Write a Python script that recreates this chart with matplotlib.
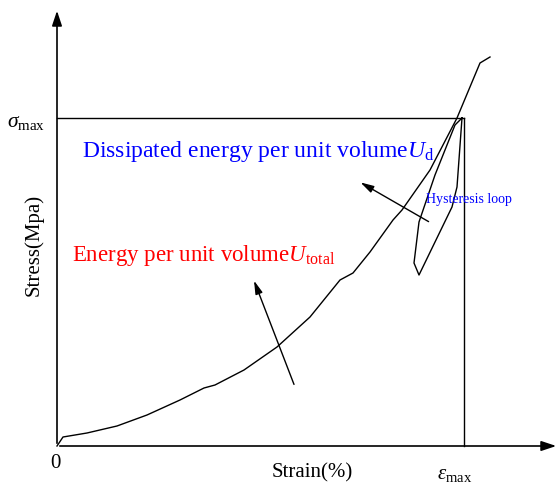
import matplotlib
matplotlib.use("Agg")
import matplotlib.pyplot as plt

plt.rcParams['font.family'] = ['Liberation Serif', 'DejaVu Serif']
plt.rcParams['mathtext.fontset'] = 'custom'
plt.rcParams['mathtext.rm'] = 'Liberation Serif'
plt.rcParams['mathtext.it'] = 'Liberation Serif:italic'

# loading curve (strain, stress) in drawing units, origin at axes corner
load_x = [0, 6, 30, 60, 90, 123, 147, 158, 187, 220, 253, 283, 296, 313, 336, 345, 373, 400, 423, 433]
load_y = [0, 9, 13, 20, 31, 46, 58, 61, 76, 99, 129, 166, 173, 194, 226, 236, 276, 328, 383, 389]

# hysteresis loop (unload / reload)
loop_x = [405, 400, 395, 362, 357, 362, 378, 398, 405]
loop_y = [328, 259, 239, 171, 183, 224, 271, 321, 328]

eps_max = 407
sig_max = 328

fig = plt.figure(figsize=(5.6, 4.87), dpi=100)
ax = fig.add_axes([0, 0, 1, 1])
ax.set_xlim(-57, 503)
ax.set_ylim(-41, 446)
ax.axis('off')

# axes with arrows
ax.annotate('', xy=(0, 438), xytext=(0, 0),
            arrowprops=dict(arrowstyle='-|>,head_length=0.9,head_width=0.3', color='black', lw=1.2))
ax.annotate('', xy=(502, 0), xytext=(0, 0),
            arrowprops=dict(arrowstyle='-|>,head_length=0.9,head_width=0.3', color='black', lw=1.2))

# sigma_max / eps_max box
ax.plot([0, eps_max], [sig_max, sig_max], color='black', lw=1.0)
ax.plot([eps_max, eps_max], [0, sig_max], color='black', lw=1.0)

ax.plot(load_x, load_y, color='black', lw=1.0)
ax.plot(loop_x, loop_y, color='black', lw=1.0)

# pointer arrows
ax.annotate('', xy=(196, 168), xytext=(238, 59),
            arrowprops=dict(arrowstyle='-|>,head_length=0.8,head_width=0.22', color='black', lw=1.0))
ax.annotate('', xy=(301, 265), xytext=(374, 223),
            arrowprops=dict(arrowstyle='-|>,head_length=0.8,head_width=0.22', color='black', lw=1.0))

# texts
ax.text(25, 294, 'Dissipated energy per unit volume$\\mathit{U}_{\\mathrm{d}}$',
        color='blue', fontsize=17, va='center', ha='left')
ax.text(15, 190, 'Energy per unit volume$\\mathit{U}_{\\mathrm{total}}$',
        color='red', fontsize=16.5, va='center', ha='left')
ax.text(369, 246, 'Hysteresis loop', color='blue', fontsize=10, va='center', ha='left')

ax.text(-12, sig_max - 5, '$\\sigma_{\\mathrm{max}}$', fontsize=15.5, ha='right', va='center')
ax.text(eps_max - 9, -29, '$\\varepsilon_{\\mathrm{max}}$', fontsize=15, ha='center', va='center')
ax.text(-2, -18, '0', fontsize=15, ha='center', va='center')
ax.text(255, -27, 'Strain(%)', fontsize=15, ha='center', va='center')
ax.text(-23, 201, 'Stress(Mpa)', fontsize=15, ha='center', va='center', rotation=90)

fig.savefig('out.png', dpi=100)
